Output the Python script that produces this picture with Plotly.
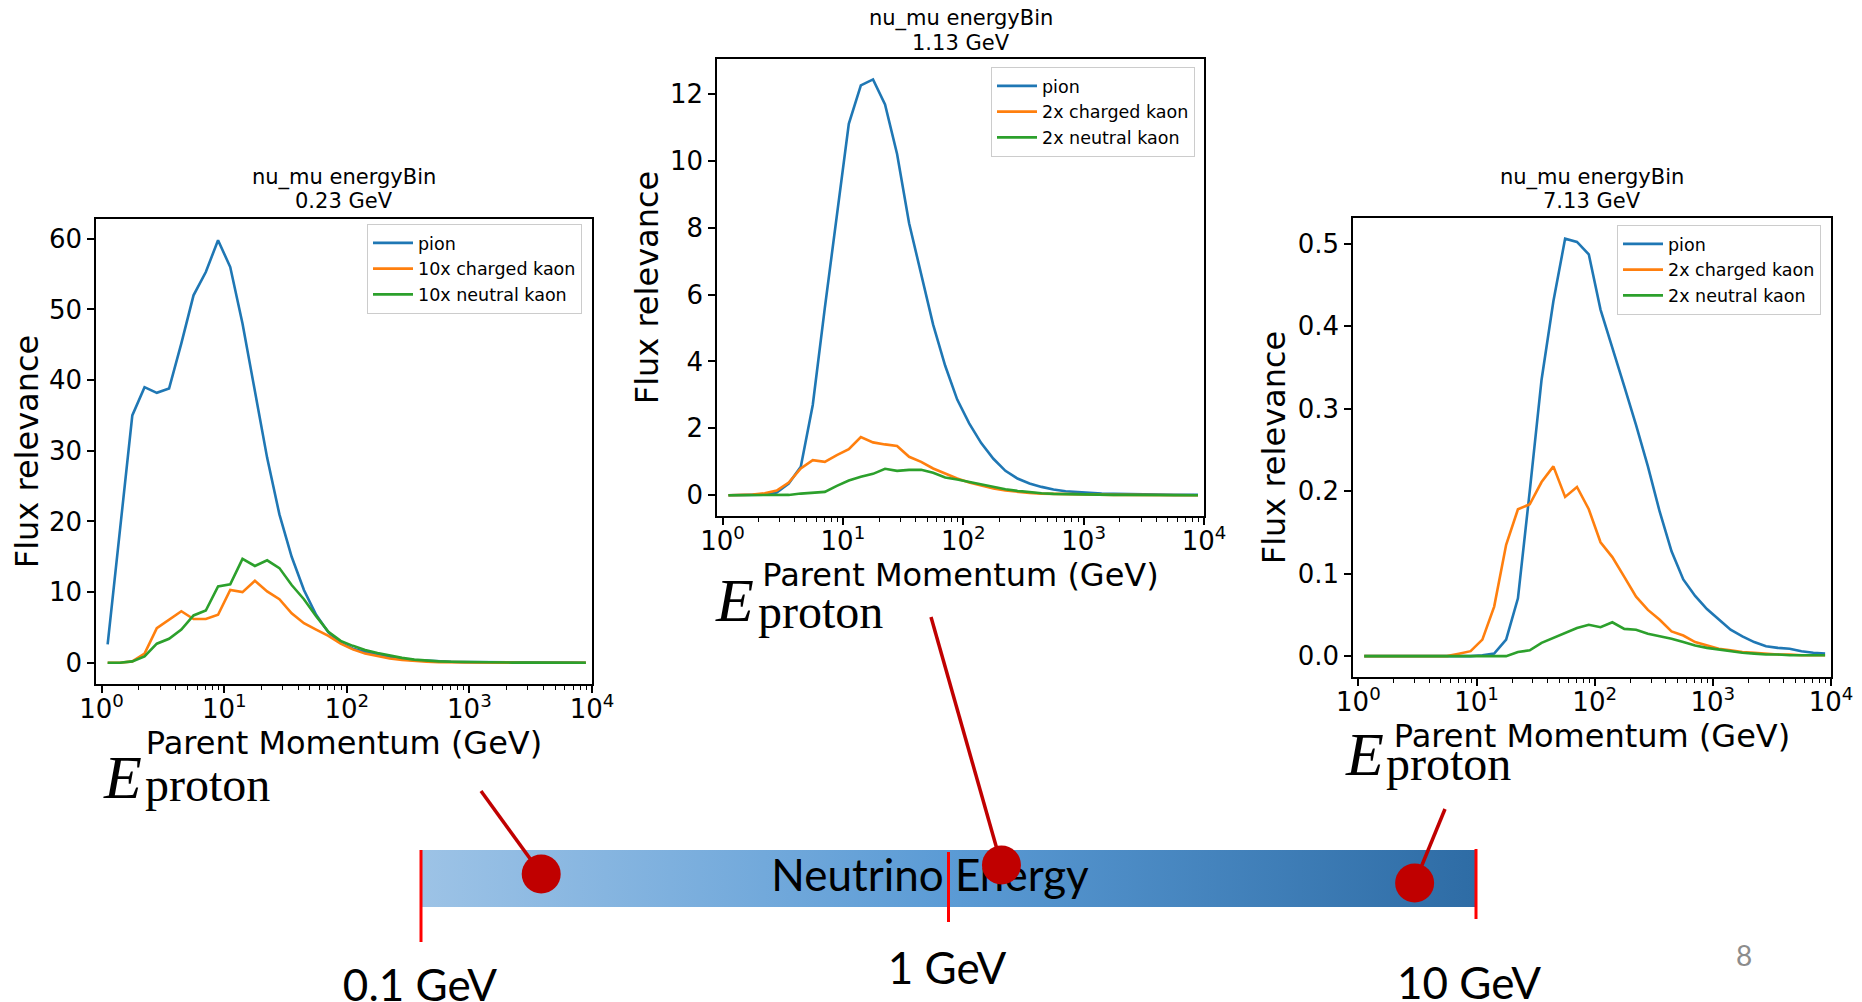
import math
import plotly.graph_objects as go

W, H = 1862, 1002
OFF = 8  # the page body margin: the figure starts 8 px in from the window corner

# ---------------- data ----------------
# parent momentum bin centres (GeV)
momentum = [1.12, 1.41, 1.78, 2.24, 2.82, 3.55, 4.47, 5.62, 7.08, 8.91,
            11.2, 14.1, 17.8, 22.4, 28.2, 35.5, 44.7, 56.2, 70.8, 89.1,
            112, 141, 178, 224, 282, 355, 447, 562, 708, 891,
            1122, 1413, 1778, 2239, 2818, 3548, 4467, 5623, 7079, 8913]

# 0.23 GeV bin
pion_023 = [2.6, 19, 35, 39.0, 38.2, 38.8, 45.2, 52.0, 55.3, 59.8,
            56.0, 48, 38.5, 29, 21, 15, 10.3, 6.8, 4.3, 2.8,
            2.0, 1.5, 1.1, 0.8, 0.5, 0.38, 0.27, 0.19, 0.14, 0.1,
            0.08, 0.06, 0.05, 0.04, 0.03, 0.03, 0.02, 0.02, 0.02, 0.01]
kch_023 = [0, 0, 0.2, 1.3, 4.9, 6.1, 7.3, 6.2, 6.2, 6.8,
           10.3, 10.0, 11.6, 10.1, 9.0, 7.0, 5.6, 4.7, 3.8, 2.7,
           1.9, 1.3, 0.9, 0.6, 0.4, 0.25, 0.15, 0.1, 0.07, 0.05,
           0.04, 0.03, 0.02, 0.02, 0.01, 0.01, 0.01, 0.01, 0.0, 0.0]
kneu_023 = [0, 0, 0.2, 0.9, 2.7, 3.4, 4.7, 6.7, 7.4, 10.8,
            11.1, 14.7, 13.7, 14.5, 13.4, 11.0, 9.0, 6.6, 4.4, 3.1,
            2.4, 1.8, 1.4, 1.0, 0.7, 0.45, 0.3, 0.2, 0.14, 0.1,
            0.07, 0.05, 0.04, 0.03, 0.02, 0.02, 0.01, 0.01, 0.01, 0.01]

# 1.13 GeV bin
pion_113 = [0, 0, 0.01, 0.02, 0.08, 0.35, 0.85, 2.7, 5.6, 8.4,
            11.1, 12.25, 12.43, 11.68, 10.2, 8.13, 6.65, 5.1, 3.87, 2.86,
            2.15, 1.56, 1.09, 0.73, 0.5, 0.35, 0.25, 0.17, 0.12, 0.09,
            0.07, 0.05, 0.04, 0.03, 0.03, 0.02, 0.02, 0.01, 0.01, 0.01]
kch_113 = [0, 0, 0.02, 0.06, 0.14, 0.38, 0.8, 1.05, 1.0, 1.2,
           1.38, 1.74, 1.58, 1.52, 1.47, 1.15, 1.0, 0.8, 0.65, 0.5,
           0.38, 0.28, 0.2, 0.14, 0.1, 0.07, 0.05, 0.04, 0.03, 0.02,
           0.02, 0.01, 0.01, 0.01, 0.01, 0.01, 0.0, 0.0, 0.0, 0.0]
kneu_113 = [0, 0, 0, 0, 0, 0.01, 0.05, 0.08, 0.1, 0.28,
            0.44, 0.55, 0.64, 0.79, 0.73, 0.76, 0.76, 0.67, 0.53, 0.47,
            0.4, 0.33, 0.24, 0.18, 0.13, 0.09, 0.06, 0.04, 0.03, 0.02,
            0.02, 0.01, 0.01, 0.01, 0.01, 0.01, 0.0, 0.0, 0.0, 0.0]

# 7.13 GeV bin
pion_713 = [0, 0, 0, 0, 0, 0, 0, 0, 0, 0,
            0.001, 0.003, 0.02, 0.07, 0.2, 0.335, 0.43, 0.506, 0.502, 0.487,
            0.42, 0.375, 0.327, 0.28, 0.23, 0.175, 0.127, 0.093, 0.073, 0.057,
            0.044, 0.032, 0.024, 0.017, 0.012, 0.010, 0.009, 0.006, 0.004, 0.003]
kch_713 = [0, 0, 0, 0, 0, 0, 0, 0, 0.003, 0.006,
           0.02, 0.06, 0.135, 0.178, 0.184, 0.211, 0.23, 0.193, 0.205, 0.178,
           0.138, 0.12, 0.096, 0.072, 0.056, 0.044, 0.03, 0.025, 0.017, 0.013,
           0.009, 0.007, 0.005, 0.004, 0.003, 0.002, 0.002, 0.001, 0.001, 0.001]
kneu_713 = [0, 0, 0, 0, 0, 0, 0, 0, 0, 0,
            0, 0, 0, 0.005, 0.007, 0.016, 0.022, 0.028, 0.034, 0.038,
            0.035, 0.041, 0.033, 0.032, 0.027, 0.024, 0.021, 0.017, 0.013, 0.01,
            0.008, 0.006, 0.004, 0.003, 0.002, 0.002, 0.001, 0.001, 0.001, 0.001]

bin_labels = ["0.23 GeV", "1.13 GeV", "7.13 GeV"]
names_023 = ["pion", "10x charged kaon", "10x neutral kaon"]
names_hi = ["pion", "2x charged kaon", "2x neutral kaon"]

yticks_023 = [0, 10, 20, 30, 40, 50, 60]
yticks_113 = [0, 2, 4, 6, 8, 10, 12]
yticks_713 = [0.0, 0.1, 0.2, 0.3, 0.4, 0.5]
xticks = [1, 10, 100, 1000, 10000]
xticklabels = ["10<sup>0</sup>", "10<sup>1</sup>", "10<sup>2</sup>", "10<sup>3</sup>", "10<sup>4</sup>"]

# neutrino-energy scale at the bottom
energy_ticks = [0.1, 1, 10]
energy_labels = ["0.1 GeV", "1 GeV", "10 GeV"]
dot_energy = [0.169, 1.26, 7.65]

# ---------------- layout constants (window pixels) ----------------
C_PI, C_KC, C_K0 = "#1f77b4", "#ff7f0e", "#2ca02c"
RED_DARK, RED = "#C00000", "#FF0000"
MPL_FONT = "DejaVu Sans"
SLIDE_FONT = "Lato"


def fx(px):
    return (px - OFF) / W


def fy(py):
    return 1 - (py - OFF) / H


boxes = [  # left, top, right, bottom
    (96, 219, 592, 684),
    (717, 59, 1204, 516),
    (1353, 218, 1831, 677),
]
yranges = [[-3.0, 62.8], [-0.62, 13.04], [-0.0253, 0.531]]
ytitle_standoff = [3, 2, 2]
title_rows = [(177, 201), (19, 43), (177, 201)]
legend_pos = [(582, 224), (1195, 67), (1821, 225)]

fig = go.Figure()

series = [
    (pion_023, kch_023, kneu_023, names_023),
    (pion_113, kch_113, kneu_113, names_hi),
    (pion_713, kch_713, kneu_713, names_hi),
]
for i, (p, kc, k0, names) in enumerate(series):
    ax = "" if i == 0 else str(i + 1)
    leg = "legend" if i == 0 else "legend%d" % (i + 1)
    for vals, name, col in zip((p, kc, k0), names, (C_PI, C_KC, C_K0)):
        fig.add_trace(go.Scatter(x=momentum, y=vals, mode="lines", name=name,
                                 line=dict(color=col, width=2.6),
                                 xaxis="x" + ax, yaxis="y" + ax, legend=leg,
                                 hoverinfo="skip"))

minor_vals = [m * 10 ** d for d in range(4) for m in range(2, 10)]
yticks_all = [yticks_023, yticks_113, yticks_713]
yfmt = ["d", "d", ".1f"]

for i, (l, t, r, b) in enumerate(boxes):
    ax = "" if i == 0 else str(i + 1)
    common = dict(showline=True, mirror=True, linecolor="black", linewidth=1.5,
                  ticks="outside", ticklen=7, tickwidth=1.5, tickcolor="black",
                  showgrid=False, zeroline=False, automargin=False,
                  tickfont=dict(family=MPL_FONT, size=26, color="black"))
    fig.update_layout(**{
        "xaxis" + ax: dict(common, domain=[fx(l), fx(r)], anchor="y" + ax, type="log",
                           range=[math.log10(0.9), 4], tickmode="array",
                           tickvals=xticks, ticktext=xticklabels,
                           ticklabelstandoff=-6,
                           minor=dict(tickmode="array", tickvals=minor_vals,
                                      ticks="outside", ticklen=4, tickwidth=1,
                                      tickcolor="black", showgrid=False),
                           title=dict(text="Parent Momentum (GeV)", standoff=5,
                                      font=dict(family=MPL_FONT, size=32, color="black"))),
        "yaxis" + ax: dict(common, domain=[fy(b), fy(t)], anchor="x" + ax,
                           range=yranges[i], tickmode="array", tickvals=yticks_all[i],
                           tickformat=yfmt[i],
                           title=dict(text="Flux relevance", standoff=ytitle_standoff[i],
                                      font=dict(family=MPL_FONT, size=32, color="black"))),
    })
    cx = fx((l + r) / 2)
    for row_y, txt in zip(title_rows[i], ["nu_mu energyBin", bin_labels[i]]):
        fig.add_annotation(x=cx, y=fy(row_y), xref="paper", yref="paper",
                           text=txt, showarrow=False, xanchor="center", yanchor="middle",
                           font=dict(family=MPL_FONT, size=21, color="black"))
    lx, ly = legend_pos[i]
    fig.update_layout(**{
        ("legend" if i == 0 else "legend%d" % (i + 1)): dict(
            x=fx(lx), y=fy(ly), xanchor="right", yanchor="top", itemwidth=40,
            bgcolor="white", bordercolor="#cccccc", borderwidth=1,
            font=dict(family=MPL_FONT, size=17.5, color="black"))
    })

# E_proton labels: "E" (left x, cap centre y) and subscript "proton" (left x, centre y)
e_pos = [(101, 777), (713, 600), (1343, 754)]
sub_pos = [(143, 784), (756, 611), (1384, 763)]
for (ex, ey), (sx, sy) in zip(e_pos, sub_pos):
    fig.add_annotation(x=fx(ex), y=fy(ey), xref="paper", yref="paper",
                       text="<i>E</i>", showarrow=False, xanchor="left", yanchor="middle",
                       font=dict(family="Liberation Serif", size=62, color="black"))
    fig.add_annotation(x=fx(sx), y=fy(sy), xref="paper", yref="paper",
                       text="proton", showarrow=False, xanchor="left", yanchor="middle",
                       font=dict(family="Liberation Serif", size=48, color="black"))

# ---------------- neutrino energy bar ----------------
BAR_L, BAR_R, BAR_T, BAR_B = 421, 1476, 850, 907
PAD = 20
dec_px = (BAR_R - BAR_L) / 2.0
fig.update_layout(
    xaxis4=dict(domain=[fx(BAR_L - PAD), fx(BAR_R + PAD)], type="log",
                range=[-1 - PAD / dec_px, 1 + PAD / dec_px], visible=False,
                anchor="y4", automargin=False),
    yaxis4=dict(domain=[0, 1], range=[H + OFF, OFF], visible=False, anchor="x4",
                automargin=False),
)


def px_to_energy(px):
    return 10 ** ((px - (BAR_L + BAR_R) / 2) / dec_px)


fig.add_trace(go.Scatter(
    x=[energy_ticks[0], energy_ticks[-1], energy_ticks[-1], energy_ticks[0], energy_ticks[0]],
    y=[BAR_T, BAR_T, BAR_B, BAR_B, BAR_T], mode="lines", fill="toself",
    line=dict(width=0, color="rgba(0,0,0,0)"),
    fillgradient=dict(type="horizontal",
                      colorscale=[[0, "#9DC3E6"], [0.5, "#5B9BD5"], [1, "#2E6CA5"]]),
    xaxis="x4", yaxis="y4", showlegend=False, hoverinfo="skip"))

fig.add_trace(go.Scatter(
    x=[px_to_energy(930)], y=[880], mode="text", text=["Neutrino Energy"],
    textposition="middle center", textfont=dict(family=SLIDE_FONT, size=44, color="black"),
    xaxis="x4", yaxis="y4", showlegend=False, hoverinfo="skip", cliponaxis=False))

tick_y = [(850, 942), (852, 922), (849, 919)]
tx, ty = [], []
for e, (a, b) in zip(energy_ticks, tick_y):
    tx += [e, e, None]
    ty += [a, b, None]
fig.add_trace(go.Scatter(x=tx, y=ty, mode="lines", line=dict(color=RED, width=3),
                         xaxis="x4", yaxis="y4", showlegend=False, hoverinfo="skip"))

dot_y = [874, 865, 883]
anchors = [(481, 791), (931, 617), (1445, 809)]
cx_, cy_ = [], []
for e, dy, (axp, ayp) in zip(dot_energy, dot_y, anchors):
    cx_ += [px_to_energy(axp), e, None]
    cy_ += [ayp, dy, None]
fig.add_trace(go.Scatter(x=cx_, y=cy_, mode="lines", line=dict(color=RED_DARK, width=3.5),
                         xaxis="x4", yaxis="y4", showlegend=False, hoverinfo="skip"))
fig.add_trace(go.Scatter(x=dot_energy, y=dot_y, mode="markers",
                         marker=dict(color=RED_DARK, size=39, line=dict(width=0)),
                         xaxis="x4", yaxis="y4", showlegend=False, hoverinfo="skip"))

label_px = [(420, 990), (947, 973), (1469, 988)]
fig.add_trace(go.Scatter(x=[px_to_energy(p[0]) for p in label_px], y=[p[1] for p in label_px],
                         mode="text", text=energy_labels, textposition="middle center",
                         textfont=dict(family=SLIDE_FONT, size=44, color="black"),
                         xaxis="x4", yaxis="y4", showlegend=False, hoverinfo="skip",
                         cliponaxis=False))

fig.add_annotation(x=fx(1744), y=fy(955), xref="paper", yref="paper", text="8",
                   showarrow=False, xanchor="center", yanchor="middle",
                   font=dict(family=SLIDE_FONT, size=28, color="#8C8C8C"))

fig.update_layout(template="none", width=W, height=H,
                  margin=dict(l=0, r=0, t=0, b=0, pad=0),
                  paper_bgcolor="white", plot_bgcolor="rgba(0,0,0,0)",
                  showlegend=True)

fig.write_html("out.html")
